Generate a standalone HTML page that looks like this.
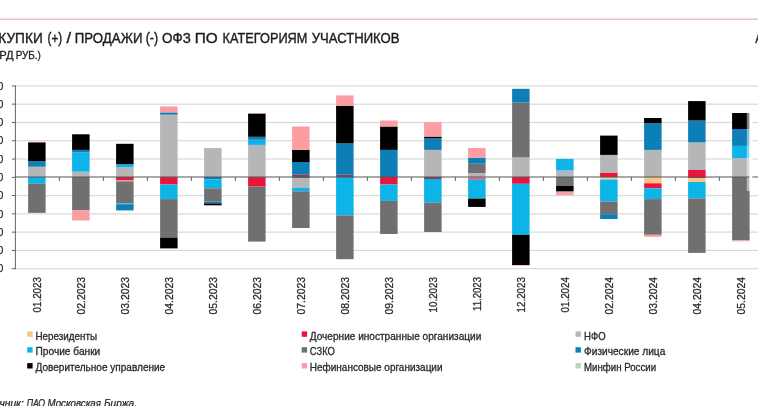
<!DOCTYPE html>
<html lang="ru"><head><meta charset="utf-8"><title>Покупки / продажи ОФЗ по категориям участников</title>
<style>html,body{margin:0;padding:0;background:#fff}body{width:758px;height:406px;overflow:hidden;position:relative}svg{display:block;position:absolute;left:0;top:0}text{font-family:"Liberation Sans",sans-serif}</style></head><body>
<svg width="758" height="406" viewBox="0 0 758 406">
<defs><filter id="soft" x="-10" y="-10" width="778" height="426" filterUnits="userSpaceOnUse"><feGaussianBlur stdDeviation="0.4"/></filter></defs>
<g filter="url(#soft)">
<rect x="-10" y="-10" width="778" height="426" fill="#fff"/>
<rect x="0" y="18.6" width="758" height="1.2" fill="#e9b0bd"/>
<rect x="15.4" y="85.3" width="743" height="1.2" fill="#d9d9d9"/>
<rect x="15.4" y="103.6" width="743" height="1.2" fill="#d9d9d9"/>
<rect x="15.4" y="121.9" width="743" height="1.2" fill="#d9d9d9"/>
<rect x="15.4" y="140.1" width="743" height="1.2" fill="#d9d9d9"/>
<rect x="15.4" y="158.4" width="743" height="1.2" fill="#d9d9d9"/>
<rect x="15.4" y="195.0" width="743" height="1.2" fill="#d9d9d9"/>
<rect x="15.4" y="213.3" width="743" height="1.2" fill="#d9d9d9"/>
<rect x="15.4" y="231.5" width="743" height="1.2" fill="#d9d9d9"/>
<rect x="15.4" y="249.8" width="743" height="1.2" fill="#d9d9d9"/>
<rect x="15.4" y="268.1" width="743" height="1.2" fill="#d9d9d9"/>
<rect x="28.1" y="166.7" width="17.5" height="10.3" fill="#b5b6b8"/>
<rect x="28.1" y="161.2" width="17.5" height="5.5" fill="#0f7fb7"/>
<rect x="28.1" y="142.3" width="17.5" height="18.9" fill="#000000"/>
<rect x="28.1" y="141.8" width="17.5" height="0.5" fill="#fb9da1"/>
<rect x="28.1" y="177.0" width="17.5" height="6.8" fill="#0eb4e8"/>
<rect x="28.1" y="183.8" width="17.5" height="29.1" fill="#6f7070"/>
<rect x="72.1" y="171.7" width="17.5" height="5.3" fill="#b5b6b8"/>
<rect x="72.1" y="152.4" width="17.5" height="19.3" fill="#0eb4e8"/>
<rect x="72.1" y="149.9" width="17.5" height="2.5" fill="#0f7fb7"/>
<rect x="72.1" y="134.3" width="17.5" height="15.6" fill="#000000"/>
<rect x="72.1" y="177.0" width="17.5" height="33.4" fill="#6f7070"/>
<rect x="72.1" y="210.4" width="17.5" height="10.1" fill="#fb9da1"/>
<rect x="116.1" y="167.2" width="17.5" height="9.8" fill="#b5b6b8"/>
<rect x="116.1" y="164.2" width="17.5" height="3.0" fill="#0eb4e8"/>
<rect x="116.1" y="143.8" width="17.5" height="20.4" fill="#000000"/>
<rect x="116.1" y="177.0" width="17.5" height="3.5" fill="#e8163d"/>
<rect x="116.1" y="180.5" width="17.5" height="0.8" fill="#fb9da1"/>
<rect x="116.1" y="181.3" width="17.5" height="22.1" fill="#6f7070"/>
<rect x="116.1" y="203.4" width="17.5" height="0.8" fill="#0eb4e8"/>
<rect x="116.1" y="204.2" width="17.5" height="6.2" fill="#0f7fb7"/>
<rect x="160.1" y="114.7" width="17.5" height="62.3" fill="#b5b6b8"/>
<rect x="160.1" y="112.4" width="17.5" height="2.3" fill="#0f7fb7"/>
<rect x="160.1" y="106.4" width="17.5" height="6.0" fill="#fb9da1"/>
<rect x="160.1" y="177.0" width="17.5" height="7.5" fill="#e8163d"/>
<rect x="160.1" y="184.5" width="17.5" height="14.6" fill="#0eb4e8"/>
<rect x="160.1" y="199.1" width="17.5" height="38.5" fill="#6f7070"/>
<rect x="160.1" y="237.6" width="17.5" height="10.8" fill="#000000"/>
<rect x="204.1" y="148.1" width="17.5" height="28.9" fill="#b5b6b8"/>
<rect x="204.1" y="177.0" width="17.5" height="2.3" fill="#0f7fb7"/>
<rect x="204.1" y="179.3" width="17.5" height="9.0" fill="#0eb4e8"/>
<rect x="204.1" y="188.3" width="17.5" height="13.1" fill="#6f7070"/>
<rect x="204.1" y="201.4" width="17.5" height="2.0" fill="#0f7fb7"/>
<rect x="204.1" y="203.4" width="17.5" height="2.0" fill="#000000"/>
<rect x="204.1" y="205.4" width="17.5" height="0.6" fill="#fb9da1"/>
<rect x="248.1" y="144.9" width="17.5" height="32.1" fill="#b5b6b8"/>
<rect x="248.1" y="139.8" width="17.5" height="5.1" fill="#0eb4e8"/>
<rect x="248.1" y="136.8" width="17.5" height="3.0" fill="#0f7fb7"/>
<rect x="248.1" y="113.5" width="17.5" height="23.3" fill="#000000"/>
<rect x="248.1" y="113.0" width="17.5" height="0.5" fill="#fb9da1"/>
<rect x="248.1" y="177.0" width="17.5" height="9.5" fill="#e8163d"/>
<rect x="248.1" y="186.5" width="17.5" height="55.1" fill="#6f7070"/>
<rect x="292.1" y="174.3" width="17.5" height="2.7" fill="#8a3a5e"/>
<rect x="292.1" y="162.0" width="17.5" height="12.3" fill="#0f7fb7"/>
<rect x="292.1" y="149.9" width="17.5" height="12.1" fill="#000000"/>
<rect x="292.1" y="126.5" width="17.5" height="23.4" fill="#fb9da1"/>
<rect x="292.1" y="177.0" width="17.5" height="1.0" fill="#6f7070"/>
<rect x="292.1" y="178.0" width="17.5" height="9.8" fill="#b5b6b8"/>
<rect x="292.1" y="187.8" width="17.5" height="3.5" fill="#0eb4e8"/>
<rect x="292.1" y="191.3" width="17.5" height="36.7" fill="#6f7070"/>
<rect x="336.1" y="174.8" width="17.5" height="2.2" fill="#8a3a5e"/>
<rect x="336.1" y="143.4" width="17.5" height="31.4" fill="#0f7fb7"/>
<rect x="336.1" y="105.7" width="17.5" height="37.7" fill="#000000"/>
<rect x="336.1" y="95.4" width="17.5" height="10.3" fill="#fb9da1"/>
<rect x="336.1" y="177.0" width="17.5" height="38.4" fill="#0eb4e8"/>
<rect x="336.1" y="215.4" width="17.5" height="43.8" fill="#6f7070"/>
<rect x="380.1" y="149.9" width="17.5" height="27.1" fill="#0f7fb7"/>
<rect x="380.1" y="126.5" width="17.5" height="23.4" fill="#000000"/>
<rect x="380.1" y="120.5" width="17.5" height="6.0" fill="#fb9da1"/>
<rect x="380.1" y="177.0" width="17.5" height="7.5" fill="#e8163d"/>
<rect x="380.1" y="184.5" width="17.5" height="16.4" fill="#0eb4e8"/>
<rect x="380.1" y="200.9" width="17.5" height="33.1" fill="#6f7070"/>
<rect x="424.1" y="149.9" width="17.5" height="27.1" fill="#b5b6b8"/>
<rect x="424.1" y="138.3" width="17.5" height="11.6" fill="#0f7fb7"/>
<rect x="424.1" y="136.6" width="17.5" height="1.7" fill="#000000"/>
<rect x="424.1" y="122.2" width="17.5" height="14.4" fill="#fb9da1"/>
<rect x="424.1" y="177.0" width="17.5" height="2.0" fill="#8a3a5e"/>
<rect x="424.1" y="179.0" width="17.5" height="23.6" fill="#0eb4e8"/>
<rect x="424.1" y="202.6" width="17.5" height="29.4" fill="#6f7070"/>
<rect x="468.1" y="173.0" width="17.5" height="4.0" fill="#b5b6b8"/>
<rect x="468.1" y="163.7" width="17.5" height="9.3" fill="#6f7070"/>
<rect x="468.1" y="157.9" width="17.5" height="5.8" fill="#0f7fb7"/>
<rect x="468.1" y="147.9" width="17.5" height="10.0" fill="#fb9da1"/>
<rect x="468.1" y="177.0" width="17.5" height="1.3" fill="#fb9da1"/>
<rect x="468.1" y="178.3" width="17.5" height="1.2" fill="#e8163d"/>
<rect x="468.1" y="179.5" width="17.5" height="19.1" fill="#0eb4e8"/>
<rect x="468.1" y="198.6" width="17.5" height="8.3" fill="#000000"/>
<rect x="512.1" y="157.4" width="17.5" height="19.6" fill="#b5b6b8"/>
<rect x="512.1" y="102.6" width="17.5" height="54.8" fill="#6f7070"/>
<rect x="512.1" y="88.8" width="17.5" height="13.8" fill="#0f7fb7"/>
<rect x="512.1" y="177.0" width="17.5" height="6.8" fill="#e8163d"/>
<rect x="512.1" y="183.8" width="17.5" height="51.0" fill="#0eb4e8"/>
<rect x="512.1" y="234.8" width="17.5" height="30.2" fill="#000000"/>
<rect x="512.1" y="265.0" width="17.5" height="0.6" fill="#fb9da1"/>
<rect x="556.1" y="170.5" width="17.5" height="6.5" fill="#b5b6b8"/>
<rect x="556.1" y="158.9" width="17.5" height="11.6" fill="#0eb4e8"/>
<rect x="556.1" y="177.0" width="17.5" height="9.0" fill="#6f7070"/>
<rect x="556.1" y="186.0" width="17.5" height="5.6" fill="#000000"/>
<rect x="556.1" y="191.6" width="17.5" height="3.4" fill="#fb9da1"/>
<rect x="600.1" y="172.5" width="17.5" height="4.5" fill="#e8163d"/>
<rect x="600.1" y="154.9" width="17.5" height="17.6" fill="#b5b6b8"/>
<rect x="600.1" y="135.6" width="17.5" height="19.3" fill="#000000"/>
<rect x="600.1" y="177.0" width="17.5" height="2.5" fill="#f9c489"/>
<rect x="600.1" y="179.5" width="17.5" height="22.1" fill="#0eb4e8"/>
<rect x="600.1" y="201.6" width="17.5" height="12.6" fill="#6f7070"/>
<rect x="600.1" y="214.2" width="17.5" height="4.8" fill="#0f7fb7"/>
<rect x="644.1" y="149.9" width="17.5" height="27.1" fill="#b5b6b8"/>
<rect x="644.1" y="123.3" width="17.5" height="26.6" fill="#0f7fb7"/>
<rect x="644.1" y="118.0" width="17.5" height="5.3" fill="#000000"/>
<rect x="644.1" y="177.0" width="17.5" height="6.3" fill="#f9c489"/>
<rect x="644.1" y="183.3" width="17.5" height="5.0" fill="#e8163d"/>
<rect x="644.1" y="188.3" width="17.5" height="10.8" fill="#0eb4e8"/>
<rect x="644.1" y="199.1" width="17.5" height="35.7" fill="#6f7070"/>
<rect x="644.1" y="234.8" width="17.5" height="2.0" fill="#fb9da1"/>
<rect x="688.1" y="170.0" width="17.5" height="7.0" fill="#e8163d"/>
<rect x="688.1" y="142.4" width="17.5" height="27.6" fill="#b5b6b8"/>
<rect x="688.1" y="120.5" width="17.5" height="21.9" fill="#0f7fb7"/>
<rect x="688.1" y="101.1" width="17.5" height="19.4" fill="#000000"/>
<rect x="688.1" y="177.0" width="17.5" height="1.0" fill="#e8163d"/>
<rect x="688.1" y="178.0" width="17.5" height="4.0" fill="#f9c489"/>
<rect x="688.1" y="182.0" width="17.5" height="16.4" fill="#0eb4e8"/>
<rect x="688.1" y="198.4" width="17.5" height="54.5" fill="#6f7070"/>
<rect x="732.1" y="158.0" width="17.5" height="19.0" fill="#b5b6b8"/>
<rect x="732.1" y="145.9" width="17.5" height="12.1" fill="#0eb4e8"/>
<rect x="732.1" y="129.0" width="17.5" height="16.9" fill="#0f7fb7"/>
<rect x="732.1" y="113.0" width="17.5" height="16.0" fill="#000000"/>
<rect x="732.1" y="177.0" width="17.5" height="63.3" fill="#6f7070"/>
<rect x="732.1" y="240.3" width="17.5" height="1.0" fill="#fb9da1"/>
<rect x="746.8" y="112.5" width="2.6" height="78.5" fill="#fff" fill-opacity="0.5"/>
<rect x="15.4" y="176.5" width="743" height="1" fill="#555"/>
<rect x="749.4" y="110" width="3" height="81" fill="#fff"/>
<rect x="58.9" y="177.0" width="0.9" height="4" fill="#555"/>
<rect x="102.9" y="177.0" width="0.9" height="4" fill="#555"/>
<rect x="146.9" y="177.0" width="0.9" height="4" fill="#555"/>
<rect x="190.9" y="177.0" width="0.9" height="4" fill="#555"/>
<rect x="234.9" y="177.0" width="0.9" height="4" fill="#555"/>
<rect x="278.9" y="177.0" width="0.9" height="4" fill="#555"/>
<rect x="322.9" y="177.0" width="0.9" height="4" fill="#555"/>
<rect x="366.9" y="177.0" width="0.9" height="4" fill="#555"/>
<rect x="410.9" y="177.0" width="0.9" height="4" fill="#555"/>
<rect x="454.9" y="177.0" width="0.9" height="4" fill="#555"/>
<rect x="498.9" y="177.0" width="0.9" height="4" fill="#555"/>
<rect x="542.9" y="177.0" width="0.9" height="4" fill="#555"/>
<rect x="586.9" y="177.0" width="0.9" height="4" fill="#555"/>
<rect x="630.9" y="177.0" width="0.9" height="4" fill="#555"/>
<rect x="674.9" y="177.0" width="0.9" height="4" fill="#555"/>
<rect x="718.9" y="177.0" width="0.9" height="4" fill="#555"/>
<rect x="762.9" y="177.0" width="0.9" height="4" fill="#555"/>
<rect x="14.9" y="85.4" width="0.9" height="183.8" fill="#555"/>
<rect x="11.8" y="85.5" width="3.6" height="0.9" fill="#555"/>
<rect x="11.8" y="103.7" width="3.6" height="0.9" fill="#555"/>
<rect x="11.8" y="122.0" width="3.6" height="0.9" fill="#555"/>
<rect x="11.8" y="140.3" width="3.6" height="0.9" fill="#555"/>
<rect x="11.8" y="158.6" width="3.6" height="0.9" fill="#555"/>
<rect x="11.8" y="176.9" width="3.6" height="0.9" fill="#555"/>
<rect x="11.8" y="195.1" width="3.6" height="0.9" fill="#555"/>
<rect x="11.8" y="213.4" width="3.6" height="0.9" fill="#555"/>
<rect x="11.8" y="231.7" width="3.6" height="0.9" fill="#555"/>
<rect x="11.8" y="250.0" width="3.6" height="0.9" fill="#555"/>
<rect x="11.8" y="268.3" width="3.6" height="0.9" fill="#555"/>
<text x="3.3" y="89.5" font-size="10" fill="#2a2a2a" stroke="#2a2a2a" stroke-width="0.25" text-anchor="end">250</text>
<text x="3.3" y="107.8" font-size="10" fill="#2a2a2a" stroke="#2a2a2a" stroke-width="0.25" text-anchor="end">200</text>
<text x="3.3" y="126.1" font-size="10" fill="#2a2a2a" stroke="#2a2a2a" stroke-width="0.25" text-anchor="end">150</text>
<text x="3.3" y="144.3" font-size="10" fill="#2a2a2a" stroke="#2a2a2a" stroke-width="0.25" text-anchor="end">100</text>
<text x="3.3" y="162.6" font-size="10" fill="#2a2a2a" stroke="#2a2a2a" stroke-width="0.25" text-anchor="end">50</text>
<text x="3.3" y="180.9" font-size="10" fill="#2a2a2a" stroke="#2a2a2a" stroke-width="0.25" text-anchor="end">0</text>
<text x="3.3" y="199.2" font-size="10" fill="#2a2a2a" stroke="#2a2a2a" stroke-width="0.25" text-anchor="end">-50</text>
<text x="3.3" y="217.5" font-size="10" fill="#2a2a2a" stroke="#2a2a2a" stroke-width="0.25" text-anchor="end">-100</text>
<text x="3.3" y="235.7" font-size="10" fill="#2a2a2a" stroke="#2a2a2a" stroke-width="0.25" text-anchor="end">-150</text>
<text x="3.3" y="254.0" font-size="10" fill="#2a2a2a" stroke="#2a2a2a" stroke-width="0.25" text-anchor="end">-200</text>
<text x="3.3" y="272.3" font-size="10" fill="#2a2a2a" stroke="#2a2a2a" stroke-width="0.25" text-anchor="end">-250</text>
<text transform="translate(41.0 277) rotate(-90)" font-size="10.8" fill="#2a2a2a" stroke="#2a2a2a" stroke-width="0.3" text-anchor="end" textLength="35.5" lengthAdjust="spacingAndGlyphs">01.2023</text>
<text transform="translate(85.0 277) rotate(-90)" font-size="10.8" fill="#2a2a2a" stroke="#2a2a2a" stroke-width="0.3" text-anchor="end" textLength="37.5" lengthAdjust="spacingAndGlyphs">02.2023</text>
<text transform="translate(129.0 277) rotate(-90)" font-size="10.8" fill="#2a2a2a" stroke="#2a2a2a" stroke-width="0.3" text-anchor="end" textLength="37.5" lengthAdjust="spacingAndGlyphs">03.2023</text>
<text transform="translate(173.1 277) rotate(-90)" font-size="10.8" fill="#2a2a2a" stroke="#2a2a2a" stroke-width="0.3" text-anchor="end" textLength="37.5" lengthAdjust="spacingAndGlyphs">04.2023</text>
<text transform="translate(217.1 277) rotate(-90)" font-size="10.8" fill="#2a2a2a" stroke="#2a2a2a" stroke-width="0.3" text-anchor="end" textLength="37.5" lengthAdjust="spacingAndGlyphs">05.2023</text>
<text transform="translate(261.1 277) rotate(-90)" font-size="10.8" fill="#2a2a2a" stroke="#2a2a2a" stroke-width="0.3" text-anchor="end" textLength="37.5" lengthAdjust="spacingAndGlyphs">06.2023</text>
<text transform="translate(305.1 277) rotate(-90)" font-size="10.8" fill="#2a2a2a" stroke="#2a2a2a" stroke-width="0.3" text-anchor="end" textLength="37.5" lengthAdjust="spacingAndGlyphs">07.2023</text>
<text transform="translate(349.1 277) rotate(-90)" font-size="10.8" fill="#2a2a2a" stroke="#2a2a2a" stroke-width="0.3" text-anchor="end" textLength="37.5" lengthAdjust="spacingAndGlyphs">08.2023</text>
<text transform="translate(393.1 277) rotate(-90)" font-size="10.8" fill="#2a2a2a" stroke="#2a2a2a" stroke-width="0.3" text-anchor="end" textLength="37.5" lengthAdjust="spacingAndGlyphs">09.2023</text>
<text transform="translate(437.1 277) rotate(-90)" font-size="10.8" fill="#2a2a2a" stroke="#2a2a2a" stroke-width="0.3" text-anchor="end" textLength="35.5" lengthAdjust="spacingAndGlyphs">10.2023</text>
<text transform="translate(481.1 277) rotate(-90)" font-size="10.8" fill="#2a2a2a" stroke="#2a2a2a" stroke-width="0.3" text-anchor="end" textLength="34.0" lengthAdjust="spacingAndGlyphs">11.2023</text>
<text transform="translate(525.0 277) rotate(-90)" font-size="10.8" fill="#2a2a2a" stroke="#2a2a2a" stroke-width="0.3" text-anchor="end" textLength="35.5" lengthAdjust="spacingAndGlyphs">12.2023</text>
<text transform="translate(569.0 277) rotate(-90)" font-size="10.8" fill="#2a2a2a" stroke="#2a2a2a" stroke-width="0.3" text-anchor="end" textLength="35.5" lengthAdjust="spacingAndGlyphs">01.2024</text>
<text transform="translate(613.0 277) rotate(-90)" font-size="10.8" fill="#2a2a2a" stroke="#2a2a2a" stroke-width="0.3" text-anchor="end" textLength="37.5" lengthAdjust="spacingAndGlyphs">02.2024</text>
<text transform="translate(657.0 277) rotate(-90)" font-size="10.8" fill="#2a2a2a" stroke="#2a2a2a" stroke-width="0.3" text-anchor="end" textLength="37.5" lengthAdjust="spacingAndGlyphs">03.2024</text>
<text transform="translate(701.0 277) rotate(-90)" font-size="10.8" fill="#2a2a2a" stroke="#2a2a2a" stroke-width="0.3" text-anchor="end" textLength="37.5" lengthAdjust="spacingAndGlyphs">04.2024</text>
<text transform="translate(745.0 277) rotate(-90)" font-size="10.8" fill="#2a2a2a" stroke="#2a2a2a" stroke-width="0.3" text-anchor="end" textLength="37.5" lengthAdjust="spacingAndGlyphs">05.2024</text>
<g font-size="14.3" fill="#1f1f1f" stroke="#1f1f1f" stroke-width="0.4">
<text x="42.7" y="43.4" text-anchor="end" textLength="64.8" lengthAdjust="spacingAndGlyphs">ПОКУПКИ</text>
<text x="47.6" y="43.4" textLength="14.5" lengthAdjust="spacingAndGlyphs">(+)</text>
<text x="66.6" y="43.4" textLength="4.6" lengthAdjust="spacingAndGlyphs">/</text>
<text x="74.8" y="43.4" textLength="67.6" lengthAdjust="spacingAndGlyphs">ПРОДАЖИ</text>
<text x="145.7" y="43.4" textLength="12.4" lengthAdjust="spacingAndGlyphs">(-)</text>
<text x="162.1" y="43.4" textLength="28.8" lengthAdjust="spacingAndGlyphs">ОФЗ</text>
<text x="194.7" y="43.4" textLength="23.0" lengthAdjust="spacingAndGlyphs">ПО</text>
<text x="222.6" y="43.4" textLength="84.8" lengthAdjust="spacingAndGlyphs">КАТЕГОРИЯМ</text>
<text x="311.8" y="43.4" textLength="87.6" lengthAdjust="spacingAndGlyphs">УЧАСТНИКОВ</text>
<text x="755.3" y="43.4" textLength="7.6" lengthAdjust="spacingAndGlyphs">А</text>
</g>
<g font-size="10.3" fill="#1f1f1f" stroke="#1f1f1f" stroke-width="0.3">
<text x="13.6" y="58.7" text-anchor="end" textLength="34.6" lengthAdjust="spacingAndGlyphs">(МЛРД</text>
<text x="15.7" y="58.7" textLength="25.2" lengthAdjust="spacingAndGlyphs">РУБ.)</text>
</g>
<g font-size="10.5" fill="#2a2a2a" stroke="#2a2a2a" stroke-width="0.3">
<rect x="27.2" y="331.4" width="5.4" height="5.4" fill="#f9c489" stroke="none"/>
<text x="35.5" y="339.6" textLength="61.6" lengthAdjust="spacingAndGlyphs">Нерезиденты</text>
<rect x="27.2" y="347.2" width="5.4" height="5.4" fill="#0eb4e8" stroke="none"/>
<text x="35.5" y="355.4" textLength="64.8" lengthAdjust="spacingAndGlyphs">Прочие банки</text>
<rect x="27.2" y="363.1" width="5.4" height="5.4" fill="#000000" stroke="none"/>
<text x="35.5" y="371.2" textLength="129.7" lengthAdjust="spacingAndGlyphs">Доверительное управление</text>
<rect x="301.7" y="331.4" width="5.4" height="5.4" fill="#e8163d" stroke="none"/>
<text x="309.8" y="339.6" textLength="171.5" lengthAdjust="spacingAndGlyphs">Дочерние иностранные организации</text>
<rect x="301.7" y="347.2" width="5.4" height="5.4" fill="#6f7070" stroke="none"/>
<text x="309.8" y="355.4" textLength="25.1" lengthAdjust="spacingAndGlyphs">СЗКО</text>
<rect x="301.7" y="363.1" width="5.4" height="5.4" fill="#fb9da1" stroke="none"/>
<text x="309.8" y="371.2" textLength="132.7" lengthAdjust="spacingAndGlyphs">Нефинансовые организации</text>
<rect x="575.5" y="331.4" width="5.4" height="5.4" fill="#b5b6b8" stroke="none"/>
<text x="584" y="339.6" textLength="21.7" lengthAdjust="spacingAndGlyphs">НФО</text>
<rect x="575.5" y="347.2" width="5.4" height="5.4" fill="#0f7fb7" stroke="none"/>
<text x="584" y="355.4" textLength="81.3" lengthAdjust="spacingAndGlyphs">Физические лица</text>
<rect x="575.5" y="363.1" width="5.4" height="5.4" fill="#b9d6ba" stroke="none"/>
<text x="584" y="371.2" textLength="72.1" lengthAdjust="spacingAndGlyphs">Минфин России</text>
</g>
<g font-size="10" fill="#2a2a2a" stroke="#2a2a2a" stroke-width="0.25" font-style="italic">
<text x="23.8" y="406.6" text-anchor="end" textLength="50.4" lengthAdjust="spacingAndGlyphs">Источник:</text>
<text x="26.7" y="406.6" textLength="18.4" lengthAdjust="spacingAndGlyphs">ПАО</text>
<text x="47.5" y="406.6" textLength="53.5" lengthAdjust="spacingAndGlyphs">Московская</text>
<text x="104" y="406.6" textLength="33" lengthAdjust="spacingAndGlyphs">Биржа.</text>
</g>
</g></svg></body></html>
